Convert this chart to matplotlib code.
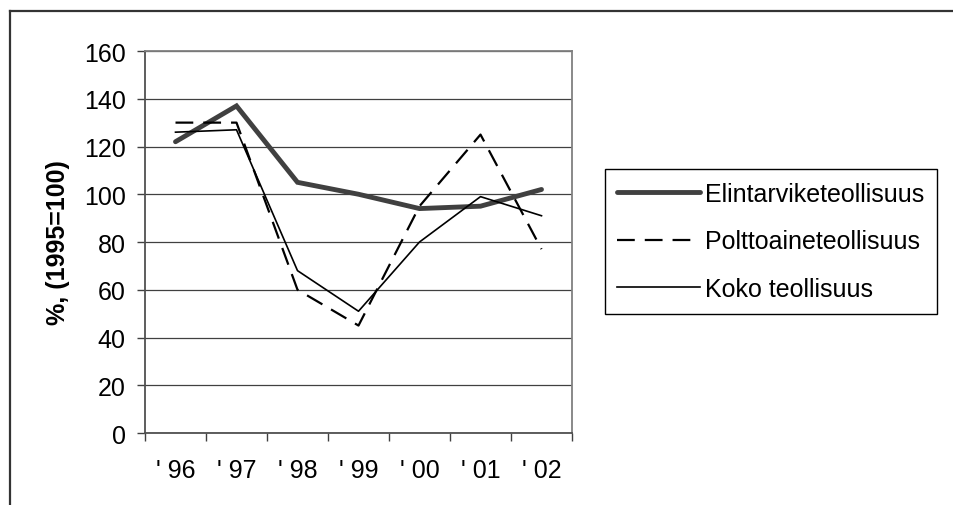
import matplotlib
matplotlib.use("Agg")
import matplotlib.pyplot as plt
from matplotlib.lines import Line2D

plt.rcParams['font.family'] = ['Liberation Sans', 'DejaVu Sans']

# Teollisuuden kehitys, indeksi 1995=100
years = ["' 96", "' 97", "' 98", "' 99", "' 00", "' 01", "' 02"]
elintarvike = [122, 137, 105, 100, 94, 95, 102]
polttoaine = [130, 130, 60, 45, 95, 125, 77]
koko = [126, 127, 68, 51, 80, 99, 91]

W, H = 954, 506
FS = 18
fig = plt.figure(figsize=(W / 100, H / 100), dpi=100)

# chart-area frame (left and top edges)
fig.add_artist(Line2D([10 / W, 10 / W], [0, 1 - 12 / H], color='#333333', lw=1.6))
fig.add_artist(Line2D([10 / W, 1], [1 - 12 / H, 1 - 12 / H], color='#333333', lw=1.6))

ax = fig.add_axes([145 / W, 1 - 434 / H, (572 - 145) / W, (434 - 52) / H])
x = list(range(len(years)))

ax.plot(x, elintarvike, color='#404040', lw=3.5, solid_joinstyle='miter',
        solid_capstyle='round', label='Elintarviketeollisuus', zorder=3)
ax.plot(x, polttoaine, color='black', lw=1.6, dashes=(8, 4.5),
        label='Polttoaineteollisuus', zorder=3)
ax.plot(x, koko, color='black', lw=1.2, label='Koko teollisuus', zorder=3)

ax.set_xlim(-0.5, len(years) - 0.5)
ax.set_ylim(0, 160)
ax.set_yticks(range(0, 161, 20))
ax.grid(axis='y', color='#404040', lw=0.9)
ax.set_axisbelow(True)

ax.set_xticks(x)
ax.set_xticklabels(years)
ax.set_xticks([k - 0.5 for k in range(len(years) + 1)], minor=True)
ax.tick_params(axis='x', which='major', length=0, pad=18, labelsize=FS)
ax.tick_params(axis='x', which='minor', length=5.5, width=1, color='#404040')
ax.tick_params(axis='y', length=6, width=1, color='#404040', pad=8, labelsize=FS)

for side in ('left', 'bottom'):
    ax.spines[side].set_color('#505050')
    ax.spines[side].set_linewidth(1.3)
for side in ('top', 'right'):
    ax.spines[side].set_color('#808080')
    ax.spines[side].set_linewidth(1.3)

ax.set_ylabel('%, (1995=100)', fontsize=FS, fontweight='bold')
ax.yaxis.set_label_coords(-0.176, 0.5)

leg = fig.legend(loc='upper left', bbox_to_anchor=(605 / W, 1 - 170 / H),
                 borderaxespad=0, fontsize=FS, handlelength=3.3,
                 handletextpad=0.2, labelspacing=0.95, borderpad=0.5,
                 fancybox=False, framealpha=1)
leg.get_frame().set_edgecolor('black')
leg.get_frame().set_linewidth(1.0)

fig.savefig('out.png', dpi=100)
